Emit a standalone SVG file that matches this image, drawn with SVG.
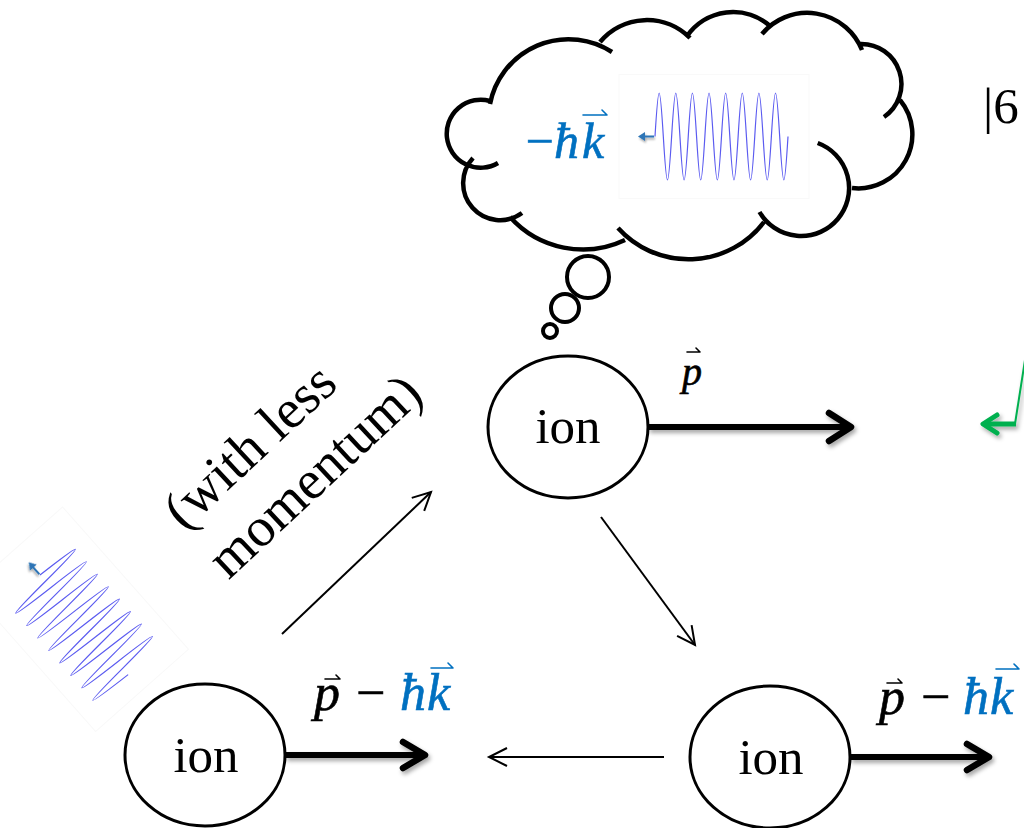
<svg xmlns="http://www.w3.org/2000/svg" xmlns:xlink="http://www.w3.org/1999/xlink" width="1024" height="828" viewBox="0 0 1024 828">
  <style>
    .ion { fill: #fff; stroke: #000; stroke-width: 3; }
    .lbl { font-family: "Liberation Serif", "Times New Roman", serif; font-size: 51px; fill: #000; }
    .rot { font-family: "Liberation Serif", "Times New Roman", serif; font-size: 55px; fill: #000; text-anchor: middle; }
    .m { font-family: "Liberation Serif", "Times New Roman", serif; font-style: italic; fill: #000; stroke: #000; stroke-width: 0.6; }
    .mb { fill: #0070C0; stroke: #0070C0; }
    .acc { fill: none; stroke: #000; stroke-width: 1.6; stroke-linecap: round; stroke-linejoin: round; }
    .accb { stroke: #0070C0; }
    .thin { fill: none; stroke: #000; stroke-width: 2; }
    .bold { fill: none; stroke: #000; stroke-width: 6; }
    .head { fill: none; stroke: #000; stroke-width: 6.5; stroke-linecap: round; stroke-linejoin: round; }
    .cloud { fill: none; stroke: #000; stroke-width: 4.5; stroke-linecap: butt; }
    .bub { fill: #fff; stroke: #000; stroke-width: 4; }
    .wave { fill: none; stroke: #5b5bf0; stroke-width: 1.2; }
  </style>
  <defs>
    <filter id="shadow" filterUnits="userSpaceOnUse" x="0" y="0" width="1024" height="828">
      <feDropShadow dx="2" dy="3" stdDeviation="2" flood-color="#000" flood-opacity="0.35"/>
    </filter>
    <filter id="shadowSmall" x="-60%" y="-150%" width="220%" height="400%">
      <feDropShadow dx="1" dy="2" stdDeviation="1.2" flood-color="#000" flood-opacity="0.35"/>
    </filter>
    <filter id="soft" filterUnits="userSpaceOnUse" x="0" y="0" width="1024" height="828">
      <feGaussianBlur stdDeviation="0.7"/>
    </filter>
    <marker id="ah" markerUnits="userSpaceOnUse" markerWidth="30" markerHeight="30" refX="0" refY="0" orient="auto" overflow="visible">
      <path d="M-18,-9 L0,0 L-18,9" fill="none" stroke="#000" stroke-width="2"/>
    </marker>
    <!-- light wave picture: 8 periods, drawn from its start point at the origin -->
    <g id="lightwave">
      <rect x="-36" y="-62" width="190" height="124" fill="none" stroke="#f9f9f9" stroke-width="1"/>
      <path class="wave" d="M0,0
        c3.528,-58 4.785,-58 8.3125,0 c3.528,58 4.785,58 8.3125,0
        c3.528,-58 4.785,-58 8.3125,0 c3.528,58 4.785,58 8.3125,0
        c3.528,-58 4.785,-58 8.3125,0 c3.528,58 4.785,58 8.3125,0
        c3.528,-58 4.785,-58 8.3125,0 c3.528,58 4.785,58 8.3125,0
        c3.528,-58 4.785,-58 8.3125,0 c3.528,58 4.785,58 8.3125,0
        c3.528,-58 4.785,-58 8.3125,0 c3.528,58 4.785,58 8.3125,0
        c3.528,-58 4.785,-58 8.3125,0 c3.528,58 4.785,58 8.3125,0
        c3.528,-58 4.785,-58 8.3125,0 c3.528,58 4.785,58 8.3125,0"/>
      <g filter="url(#shadowSmall)">
        <path d="M-1,0 H-11" stroke="#2E75B6" stroke-width="2" fill="none"/>
        <path d="M-17,0 L-10,-4.5 L-10,4.5 Z" fill="#2E75B6"/>
      </g>
    </g>
  </defs>

  <rect width="1024" height="828" fill="#fff"/>

  <!-- thought cloud -->
  <g id="cloud">
    <path class="cloud" d="
      M498,163 A34,34 0 1 1 490,101
      M490,104 A80,80 0 0 1 612,52
      M600,42 A61,61 0 0 1 690,38
      M687,36 A56,56 0 0 1 770,26
      M762,34 A59,59 0 0 1 862,50
      M860,44 A40,40 0 0 1 884,117
      M900,100 A54,54 0 0 1 852,188
      M817.7,143 A48,48 0 1 1 759.5,212
      M764,222 A95,95 0 0 1 618,228
      M625,240 A98,98 0 0 1 510,217
      M522,213 A37,37 0 0 1 473,158"/>
    <use xlink:href="#lightwave" transform="translate(655,136.5)"/>
    <text class="m mb" font-size="50" x="525.5" y="158" style="font-style:normal">−</text>
    <text class="m mb" font-size="50" x="554" y="158">ħ</text>
    <text class="m mb" font-size="50" x="582" y="158">k</text>
    <path class="acc accb" d="M583,115 H607 L602,110"/>
  </g>

  <!-- thought bubbles -->
  <g id="bubbles">
    <circle class="bub" cx="588" cy="277" r="21"/>
    <circle class="bub" cx="565" cy="308" r="14"/>
    <circle class="bub" cx="550" cy="331" r="7"/>
  </g>

  <!-- incoming light -->
  <g id="incoming-light" filter="url(#soft)">
    <use xlink:href="#lightwave" transform="translate(40,575) rotate(48.5)"/>
  </g>

  <!-- partial state label at the right edge -->
  <g id="state-label">
    <text class="lbl" x="983" y="123" font-size="54">|6</text>
  </g>

  <!-- green arrow at the right edge -->
  <g id="green-arrow" filter="url(#shadow)">
    <path d="M1025,360 L1015,424" fill="none" stroke="#00B050" stroke-width="2"/>
    <path d="M1016,424 H986" fill="none" stroke="#00B050" stroke-width="5"/>
    <path d="M997,415 L983,424 L997,433" fill="none" stroke="#00B050" stroke-width="5" stroke-linecap="round" stroke-linejoin="round"/>
  </g>

  <!-- ions -->
  <g id="ion-top">
    <ellipse class="ion" cx="568" cy="427" rx="80" ry="71"/>
    <text class="lbl" x="568" y="443" text-anchor="middle">ion</text>
  </g>
  <g id="ion-left">
    <ellipse class="ion" cx="205" cy="755" rx="80" ry="71"/>
    <text class="lbl" x="206" y="772" text-anchor="middle">ion</text>
  </g>
  <g id="ion-right">
    <ellipse class="ion" cx="770" cy="757" rx="80" ry="71"/>
    <text class="lbl" x="771" y="774" text-anchor="middle">ion</text>
  </g>

  <!-- momentum arrows -->
  <g id="momentum">
    <g filter="url(#shadow)">
      <path class="bold" d="M648,427 H849"/>
      <path class="head" d="M829,413 L851,427 L829,441"/>
    </g>
    <text class="m" font-size="40" x="682" y="385">p</text>
    <path class="acc" d="M687,352 H700 L696,348"/>

    <g filter="url(#shadow)">
      <path class="bold" d="M285,755 H422"/>
      <path class="head" d="M403,742 L425,755 L403,768"/>
    </g>
    <text class="m" font-size="52" x="314" y="710">p</text>
    <path class="acc" d="M325,679 H340 L336,675"/>
    <text class="m" font-size="52" x="356" y="710" style="font-style:normal">−</text>
    <text class="m mb" font-size="52" x="400" y="710">ħ</text>
    <text class="m mb" font-size="52" x="427" y="710">k</text>
    <path class="acc accb" d="M431,668 H453 L448,663"/>

    <g filter="url(#shadow)">
      <path class="bold" d="M850,757 H986"/>
      <path class="head" d="M967,744 L989,757 L967,770"/>
    </g>
    <text class="m" font-size="52" x="879" y="714">p</text>
    <path class="acc" d="M887,683 H902 L898,679"/>
    <text class="m" font-size="52" x="921" y="714" style="font-style:normal">−</text>
    <text class="m mb" font-size="52" x="963" y="714">ħ</text>
    <text class="m mb" font-size="52" x="990" y="714">k</text>
    <path class="acc accb" d="M996,669 H1019 L1014,664"/>
  </g>

  <!-- cycle connectors -->
  <g id="connectors">
    <path class="thin" d="M282,634 L431,492" marker-end="url(#ah)"/>
    <path class="thin" d="M601,517 L695,645" marker-end="url(#ah)"/>
    <path class="thin" d="M664,757 L489,757" marker-end="url(#ah)"/>
  </g>

  <!-- connector label -->
  <g id="label-less-momentum" transform="translate(262,459) rotate(-43)">
    <text class="rot" x="0" y="0">(with less</text>
    <text class="rot" x="27" y="66">momentum)</text>
  </g>
</svg>
